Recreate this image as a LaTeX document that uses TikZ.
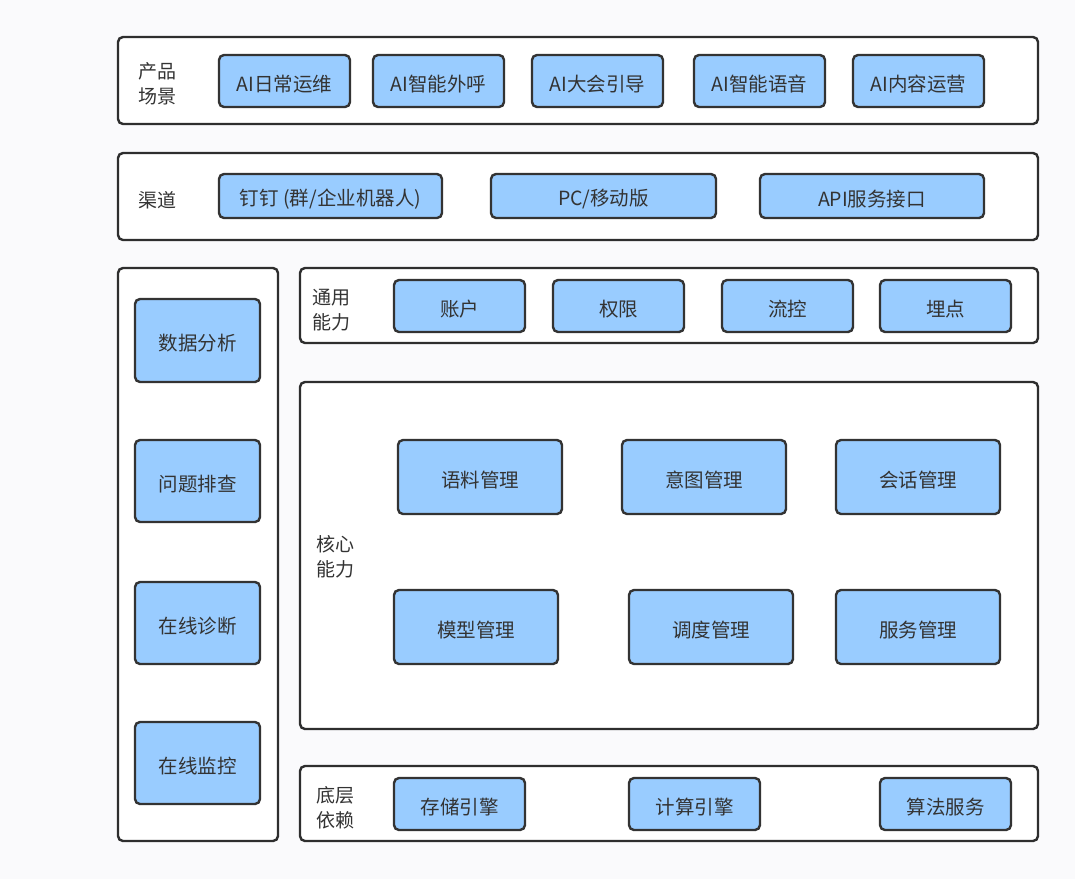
\documentclass[tikz,border=0pt]{standalone}
\usepackage{fontspec}
\setmainfont{Noto Sans CJK SC}
\definecolor{blue1}{HTML}{99CCFF}
\definecolor{bgc}{HTML}{FAFAFC}
\begin{document}
\begin{tikzpicture}[x=1pt,y=-1pt,
  frame/.style={draw=black!82,line width=2.4pt,rounded corners=5pt,fill=white},
  item/.style={draw=black!80,line width=2.4pt,rounded corners=5pt,fill=blue1,text=black!80,font=\fontsize{19.5}{22}\selectfont},
  lbl/.style={text=black!80,font=\fontsize{19}{25}\selectfont,align=left,inner sep=0pt}]
\fill[fill=bgc] (0,0) rectangle (1075,879);
\useasboundingbox (0,0) rectangle (1075,879);
% frames
\draw[frame] (118,37) rectangle (1038,124);
\draw[frame] (118,153) rectangle (1038,240);
\draw[frame] (118,268) rectangle (278,841);
\draw[frame] (300,268) rectangle (1038,343);
\draw[frame] (300,382) rectangle (1038,729);
\draw[frame] (300,766) rectangle (1038,841);
% labels
\node[lbl] (l1) at (157,84) {产品\\场景};
\node[lbl] (l2) at (157,200) {渠道};
\node[lbl] (l3) at (331,310) {通用\\能力};
\node[lbl] (l4) at (335,557) {核心\\能力};
\node[lbl] (l5) at (335,808) {底层\\依赖};
% helper
\newcommand{\itm}[6]{\node[item,minimum width=#4-#2,minimum height=#5-#3,inner sep=0pt] (#1) at ({(#2+#4)/2},{(#3+#5)/2}) {\raisebox{-3pt}[\height][\depth]{#6}};}
% row 1
\itm{a1}{219}{55}{350}{107}{AI日常运维}
\itm{a2}{373}{55}{504}{107}{AI智能外呼}
\itm{a3}{532}{55}{663}{107}{AI大会引导}
\itm{a4}{694}{55}{825}{107}{AI智能语音}
\itm{a5}{853}{55}{984}{107}{AI内容运营}
% row 2
\itm{b1}{219}{174}{442}{218}{钉钉 (群/企业机器人)}
\itm{b2}{491}{174}{716}{218}{PC/移动版}
\itm{b3}{760}{174}{984}{218}{API服务接口}
% left column
\itm{c1}{135}{299}{260}{382}{数据分析}
\itm{c2}{135}{440}{260}{522}{问题排查}
\itm{c3}{135}{582}{260}{664}{在线诊断}
\itm{c4}{135}{722}{260}{804}{在线监控}
% general
\itm{d1}{394}{280}{525}{332}{账户}
\itm{d2}{553}{280}{684}{332}{权限}
\itm{d3}{722}{280}{853}{332}{流控}
\itm{d4}{880}{280}{1011}{332}{埋点}
% core
\itm{e1}{398}{440}{562}{514}{语料管理}
\itm{e2}{622}{440}{786}{514}{意图管理}
\itm{e3}{836}{440}{1000}{514}{会话管理}
\itm{e4}{394}{590}{558}{664}{模型管理}
\itm{e5}{629}{590}{793}{664}{调度管理}
\itm{e6}{836}{590}{1000}{664}{服务管理}
% base
\itm{f1}{394}{778}{525}{830}{存储引擎}
\itm{f2}{629}{778}{760}{830}{计算引擎}
\itm{f3}{880}{778}{1011}{830}{算法服务}
\end{tikzpicture}
\end{document}
